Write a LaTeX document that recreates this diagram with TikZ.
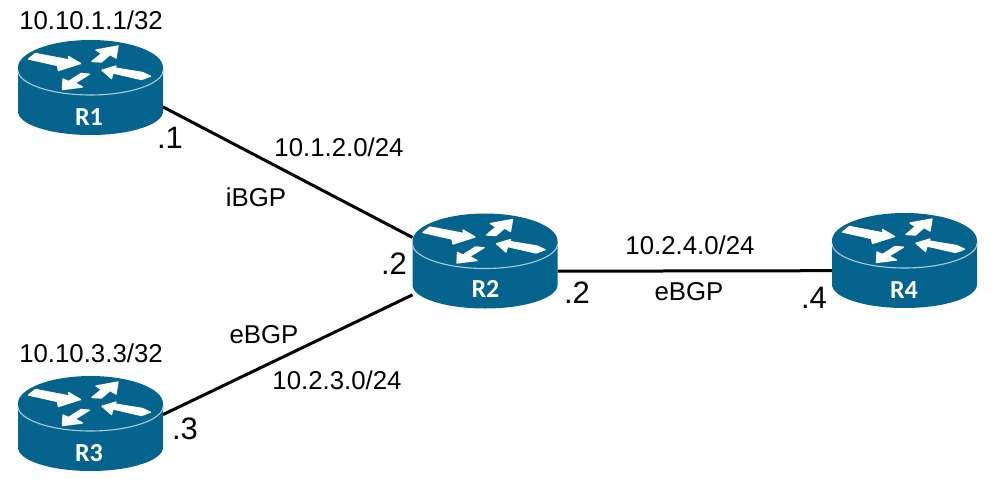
\documentclass[tikz,border=0pt]{standalone}
\usepackage{fontspec}
\setmainfont{Liberation Sans}
\newfontfamily\routerfont{Carlito}
\definecolor{routerblue}{HTML}{04648E}
\definecolor{routerline}{HTML}{A9CBDA}
\tikzset{
  x=1pt,y=-1pt,
  routerbox/.style={minimum width=145pt,minimum height=95pt,inner sep=0pt,outer sep=0pt},
  link/.style={line width=3pt,black},
  lbl/.style={font=\fontsize{25.8}{28}\selectfont,inner sep=0pt,text=black},
  ifc/.style={font=\fontsize{31}{34}\selectfont,inner sep=0pt,text=black},
  rname/.style={font=\routerfont\fontsize{26}{28}\selectfont\bfseries,inner sep=0pt,text=white},
  lidarrow/.style={fill=white,draw=white,line width=1.3pt,line join=round},
  pics/router/.style={code={
    % cylinder body, then the rim line and the four white arrows on the lid
    \fill[routerblue] (-72.5,-20) -- (-72.5,24)
      .. controls (-72.5,37) and (-40,47.5) .. (0,47.5)
      .. controls (40,47.5) and (72.5,37) .. (72.5,24) -- (72.5,-20)
      .. controls (72.5,-35) and (40,-47.5) .. (0,-47.5)
      .. controls (-40,-47.5) and (-72.5,-35) .. (-72.5,-20) -- cycle;
    \draw[routerline,line width=1.1pt] (-72.5,-17)
      .. controls (-72.5,-4) and (-40,7.5) .. (0,7.5)
      .. controls (40,7.5) and (72.5,-4) .. (72.5,-17);
    \path[lidarrow] (-62,-28.5) -- (-55,-34) -- (-21,-27.5) -- (-22,-31) -- (-10,-24) -- (-32,-17) -- (-33,-22) -- cycle;
    \path[lidarrow] (27.5,-41.5) -- (25.5,-29.5) -- (19.5,-33) -- (11,-25.5) -- (1.5,-26) -- (11,-34) -- (5.5,-37.5) -- cycle;
    \path[lidarrow] (11.5,-17.3) -- (25.5,-21.5) -- (24.5,-19.5) -- (52,-15) -- (60,-11.3) -- (51,-8) -- (22.5,-14.5) -- (21,-9) -- cycle;
    \path[lidarrow] (-9.5,-14) -- (-1,-13.3) -- (-15.5,-4.5) -- (-8,-0.5) -- (-28,2) -- (-27.5,-8.5) -- (-22,-6) -- cycle;
  }}
}
\begin{document}
\begin{tikzpicture}
\useasboundingbox (0,0) rectangle (999,490);
% router footprints used as connector ends
\node[routerbox] (r1) at (90.5,87.5) {};
\node[routerbox] (r2) at (485,261) {};
\node[routerbox] (r3) at (90.5,423.5) {};
\node[routerbox] (r4) at (904.5,260.5) {};
\draw[link] (r1.-15) -- (r2.162);
\draw[link] (r3.7.5) -- (r2.205);
\draw[link] (r2.-8.6) -- (r4.188.2);
\pic at (r1) {router};
\pic at (r2) {router};
\pic at (r3) {router};
\pic at (r4) {router};
\node[rname] (n1) at (89,117) {R1};
\node[rname] (n2) at (485.5,289) {R2};
\node[rname] (n3) at (89,453) {R3};
\node[rname] (n4) at (904,290) {R4};
\node[lbl] (a1) at (91,20) {10.10.1.1/32};
\node[lbl] (a2) at (91,353) {10.10.3.3/32};
\node[lbl] (s1) at (339,147) {10.1.2.0/24};
\node[lbl] (s2) at (337,380) {10.2.3.0/24};
\node[lbl] (s3) at (690,245) {10.2.4.0/24};
\node[lbl] (b1) at (256,197) {iBGP};
\node[lbl] (b2) at (264,335) {eBGP};
\node[lbl] (b3) at (689,292) {eBGP};
\node[ifc] (i1) at (170,138) {.1};
\node[ifc] (i2) at (394,264) {.2};
\node[ifc] (i3) at (185,429) {.3};
\node[ifc] (i4) at (577,293) {.2};
\node[ifc] (i5) at (814,298) {.4};
\end{tikzpicture}
\end{document}
